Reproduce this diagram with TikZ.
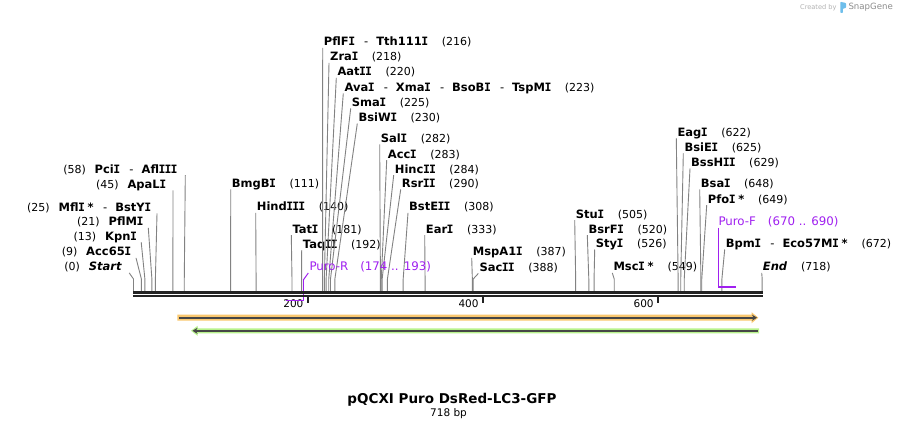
\documentclass[tikz,border=0pt]{standalone}
\usepackage{fontspec}
\setmainfont{DejaVu Sans}
\newfontfamily\vimono{DejaVu Sans Mono}
\usetikzlibrary{arrows.meta,calc}
\definecolor{linegray}{RGB}{130,130,130}
\definecolor{barblack}{RGB}{34,34,34}
\definecolor{primer}{RGB}{160,32,240}
\definecolor{featorange}{RGB}{250,200,112}
\definecolor{featgreen}{RGB}{184,242,140}
\definecolor{featdark}{RGB}{70,70,70}
\definecolor{logoblue}{RGB}{110,190,235}
\newcommand{\enzsep}{{\mdseries\hspace{9.5pt}-\hspace{8pt}}}
\newcommand{\VI}{{\vimono\kern-0.45pt I\kern-0.45pt}}
\newcommand{\enzR}[5]{%
  \node[ename, anchor=base west] (#1) at (#3, {430-#4-4.2}) {#5};
  \node[enum, anchor=base west] (#1-n) at ([xshift=13.5pt]#1.base east) {(#2)};
  \coordinate (#1-k) at ({133.5+0.8756*#2}, 151);
  \coordinate (#1-b) at ({133.5+0.8756*#2}, 139);
  \draw[eline] ([shift={(-1pt,-2pt)}]#1.base west) -- (#1-k) -- (#1-b);
}
\newcommand{\enzL}[6]{%
  \node[ename, anchor=base east] (#1) at (#3, {430-#4-4.2}) {#5};
  \node[enum, anchor=base east] (#1-n) at ([xshift=-8.5pt]#1.base west) {(#2)};
  \coordinate (#1-k) at ({133.5+0.8756*#2}, 151);
  \coordinate (#1-b) at ({133.5+0.8756*#2}, 139);
  \draw[eline] ([shift={(#6pt,-2pt)}]#1.base east) -- (#1-k) -- (#1-b);
}
\begin{document}
\begin{tikzpicture}[x=1pt,y=1pt,
  ename/.style={font=\fontsize{11.5}{13}\selectfont\bfseries, inner sep=0pt, text=black},
  enum/.style={font=\fontsize{11}{12}\selectfont, inner sep=0pt, text=black},
  eline/.style={draw=linegray, line width=0.9pt},
  plabel/.style={font=\fontsize{11.8}{13}\selectfont, inner sep=0pt, text=primer},
  pline/.style={draw=primer, line width=1.6pt},
  ticklabel/.style={font=\fontsize{10.5}{12}\selectfont, inner sep=0pt, anchor=east},
  tickmark/.style={draw=barblack, line width=2pt}]
\useasboundingbox (0,0) rectangle (897,430);
\fill[white] (0,0) rectangle (897,430);

% left-side enzymes
\enzL{pcii}{58}{177.3}{169}{Pci\VI\enzsep Afl\VI\VI\VI}{8}
\enzL{apali}{45}{166}{184.3}{ApaL\VI}{7}
\enzL{mfli}{25}{151}{207.3}{Mfl\VI\hspace{3pt}*\enzsep BstY\VI}{6}
\enzL{pflmi}{21}{143.3}{221.7}{PflM\VI}{5}
\enzL{kpni}{13}{136.7}{236}{Kpn\VI}{4.5}
\enzL{acc}{9}{131}{251.7}{Acc65\VI}{5}
\enzL{start}{0}{121.7}{266.7}{\itshape Start}{7.5}

% right-side enzymes
\enzR{bmgbi}{111}{231.7}{183.3}{BmgB\VI}
\enzR{hind}{140}{256.7}{206.7}{Hind\VI\VI\VI}
\enzR{tati}{181}{292.3}{229}{Tat\VI}
\enzR{taqii}{192}{302.7}{244}{Taq\VI\VI}
\enzR{pflfi}{216}{323.7}{41.7}{PflF\VI\enzsep Tth111\VI}
\enzR{zrai}{218}{330}{56.7}{Zra\VI}
\enzR{aatii}{220}{337.3}{71.7}{Aat\VI\VI}
\enzR{avai}{223}{344.3}{87.3}{Ava\VI\enzsep Xma\VI\enzsep BsoB\VI\enzsep TspM\VI}
\enzR{smai}{225}{351.7}{102.3}{Sma\VI}
\enzR{bsiwi}{230}{358.3}{117.3}{BsiW\VI}
\enzR{sali}{282}{380.7}{138.3}{Sal\VI}
\enzR{acci}{283}{387.7}{154}{Acc\VI}
\enzR{hincii}{284}{394.7}{169}{Hinc\VI\VI}
\enzR{rsrii}{290}{401.7}{183.3}{Rsr\VI\VI}
\enzR{bsteii}{308}{409}{206.7}{BstE\VI\VI}
\enzR{eari}{333}{425.7}{229}{Ear\VI}
\enzR{mspa}{387}{472.7}{251.7}{MspA1\VI}
\enzR{sacii}{388}{479.3}{267.3}{Sac\VI\VI}
\enzR{stui}{505}{575.7}{214}{Stu\VI}
\enzR{bsrfi}{520}{588.3}{229}{BsrF\VI}
\enzR{styi}{526}{595.7}{243.3}{Sty\VI}
\enzR{msci}{549}{613.3}{266.7}{Msc\VI\hspace{3pt}*}
\enzR{eagi}{622}{677.3}{132.3}{Eag\VI}
\enzR{bsiei}{625}{684.3}{147.3}{BsiE\VI}
\enzR{bsshii}{629}{691}{162.3}{BssH\VI\VI}
\enzR{bsai}{648}{700.7}{183.3}{Bsa\VI}
\enzR{pfoi}{649}{707.7}{199}{Pfo\VI\hspace{3pt}*}
\enzR{bpmi}{672}{725.7}{243.3}{Bpm\VI\enzsep Eco57M\VI\hspace{3pt}*}
\enzR{endl}{718}{762.7}{266.7}{\itshape End}

% Puro-R primer (drawn under the backbone)
\node[plabel, anchor=base west] (puror) at (309.3, {430-266.7-4.3}) {Puro-R\hspace{12pt}(174 .. 193)};
\coordinate (pr-top) at (303.3, {430-280});
\coordinate (pr-end) at (303.3, {430-300.7});
\coordinate (pr-start) at (285.7, {430-300.7});
\draw[pline, line width=1pt] ([shift={(-1pt,-2pt)}]puror.base west) -- (pr-top);
\draw[pline] (pr-top) -- (pr-end) -- (pr-start);

% backbone
\coordinate (bb-l) at (133, {430-292.5});
\coordinate (bb-r) at (763, {430-292.5});
\draw[barblack, line width=3pt] (bb-l) -- (bb-r);
\draw[barblack, line width=2pt] ([yshift=-3.8pt]bb-l) -- ([yshift=-3.8pt]bb-r);

% ticks
\foreach \p/\t in {200/200,400/400,600/600}{
  \coordinate (tk\t) at ({133.5+0.8756*\p-1}, {430-297});
  \draw[tickmark] (tk\t) -- ([yshift=-6.5pt]tk\t);
  \node[ticklabel] (tl\t) at ([shift={(-4pt,-7pt)}]tk\t) {\t};
}
% redraw Puro-R horizontal over the tick label
\draw[pline] (pr-end) -- (pr-start);

% Puro-F primer
\node[plabel, anchor=base west] (purof) at (718.3, {430-221.7-4.3}) {Puro-F\hspace{12pt}(670 .. 690)};
\coordinate (pf-corner) at (718.3, {430-287.3});
\coordinate (pf-end) at (735.7, {430-287.3});
\draw[pline] ([yshift=-2pt]purof.base west) -- (pf-corner) -- (pf-end);

% orange feature (forward)
\fill[featorange] (177.3,{430-314.7}) -- (751.7,{430-314.7}) -- (751.7,{430-312.3}) -- (758.3,{430-317.7})
   -- (751.7,{430-323.1}) -- (751.7,{430-320.7}) -- (177.3,{430-320.7}) -- cycle;
\draw[featdark, line width=1.8pt, -{Stealth[length=5pt,width=6pt]}] (179,{430-317.7}) -- (757,{430-317.7});

% green feature (reverse)
\fill[featgreen] (759,{430-328.3}) -- (197.6,{430-328.3}) -- (197.6,{430-325.8}) -- (191,{430-330.8})
   -- (197.6,{430-335.8}) -- (197.6,{430-333.3}) -- (759,{430-333.3}) -- cycle;
\draw[featdark, line width=1.8pt, -{Stealth[length=5pt,width=6pt]}] (757.5,{430-330.8}) -- (192.5,{430-330.8});

% title
\node[font=\fontsize{13.5}{16}\selectfont\bfseries, inner sep=0pt] (title) at (452, {430-400}) {pQCXI Puro DsRed-LC3-GFP};
\node[font=\fontsize{10.5}{12}\selectfont, inner sep=0pt] (bp) at (448.5, {430-413.5}) {718 bp};

% credit
\node[font=\fontsize{6.6}{8}\selectfont, text=black!30, anchor=west, inner sep=0pt] (cb) at (800, {430-7.5}) {Created by};
\fill[logoblue, rounded corners=0.8pt] (840.3,{430-1.8}) -- (846,{430-3}) -- (846,{430-8}) -- (842.8,{430-8.6}) -- (842.8,{430-13}) -- (840.3,{430-13}) -- cycle;
\node[font=\fontsize{8.6}{10}\selectfont, text=black!45, anchor=west, inner sep=0pt] (sg) at (848.3, {430-7.5}) {SnapGene};
\end{tikzpicture}
\end{document}
